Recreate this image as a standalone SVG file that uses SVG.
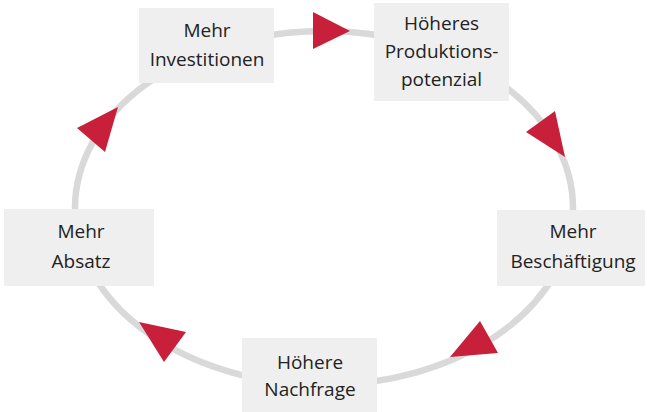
<svg xmlns="http://www.w3.org/2000/svg" width="647" height="412" viewBox="0 0 647 412">
<style>
.box{fill:#efefef}
.t{font-family:"Open Sans","Liberation Sans",sans-serif;font-size:19px;fill:#222;text-anchor:middle}
.arr{fill:#c8203a}
.ring{fill:none;stroke:#d9d9d9;stroke-width:6.5}
</style>
<rect width="647" height="412" fill="#fff"/>
<g id="connectors">
<ellipse class="ring" cx="324" cy="208" rx="249" ry="177"/>
<polygon class="arr" points="313,12 313,49 350,31"/>
<polygon class="arr" points="526,132 555,111 565,157"/>
<polygon class="arr" points="450,357 480,321 498,353"/>
<polygon class="arr" points="139,322 186,332 164,362"/>
<polygon class="arr" points="77,128 118,107 105,152"/>
</g>
<g id="n1">
<rect class="box" x="139" y="8" width="135" height="75"/>
<text class="t" x="207" y="37">Mehr</text>
<text class="t" x="207" y="66">Investitionen</text>
</g>
<g id="n2">
<rect class="box" x="374" y="3" width="135" height="98"/>
<text class="t" x="441.5" y="30">Höheres</text>
<text class="t" x="441.5" y="58">Produktions-</text>
<text class="t" x="441.5" y="86">potenzial</text>
</g>
<g id="n3">
<rect class="box" x="497" y="210" width="148" height="76"/>
<text class="t" x="573" y="238">Mehr</text>
<text class="t" x="573" y="268">Beschäftigung</text>
</g>
<g id="n4">
<rect class="box" x="242" y="338" width="135" height="74"/>
<text class="t" x="310" y="369">Höhere</text>
<text class="t" x="310" y="396">Nachfrage</text>
</g>
<g id="n5">
<rect class="box" x="4" y="209" width="150" height="77"/>
<text class="t" x="81" y="238">Mehr</text>
<text class="t" x="81" y="268">Absatz</text>
</g>
</svg>
